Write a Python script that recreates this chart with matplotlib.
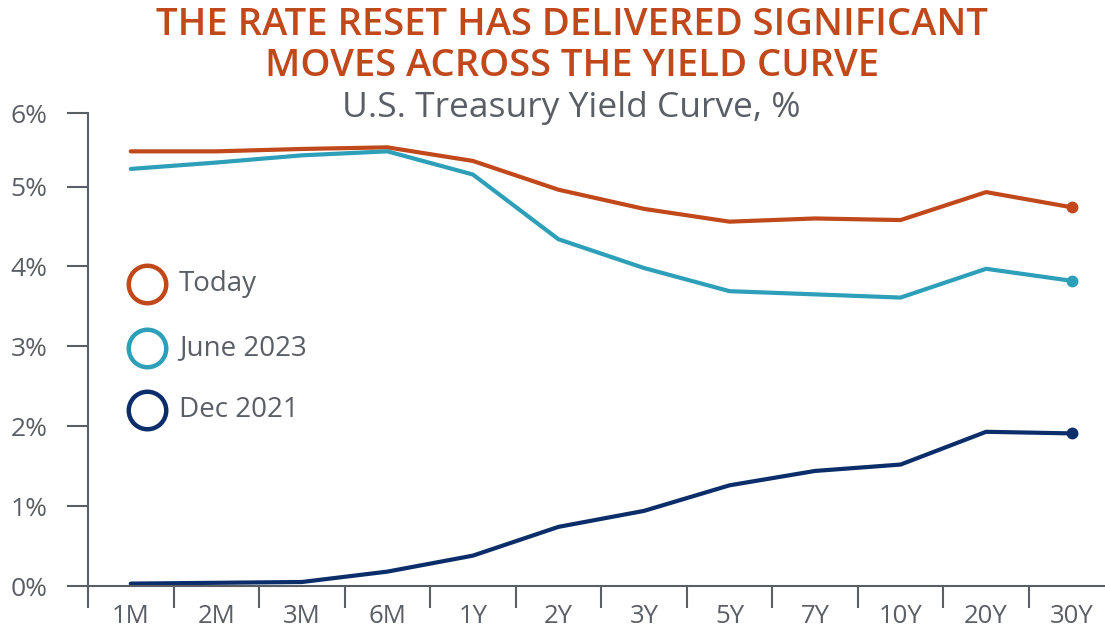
import matplotlib.pyplot as plt

# Дані кривої дохідності
tenors = ['1M', '2M', '3M', '6M', '1Y', '2Y', '3Y', '5Y', '7Y', '10Y', '20Y', '30Y']
today = [5.44, 5.44, 5.47, 5.49, 5.32, 4.96, 4.72, 4.56, 4.60, 4.58, 4.93, 4.74]
june_2023 = [5.22, 5.30, 5.39, 5.44, 5.15, 4.34, 3.98, 3.69, 3.65, 3.61, 3.97, 3.82]
dec_2021 = [0.03, 0.04, 0.05, 0.18, 0.38, 0.74, 0.94, 1.26, 1.44, 1.52, 1.93, 1.91]
series_names = ['Today', 'June 2023', 'Dec 2021']
yticks = [0, 1, 2, 3, 4, 5, 5.92]

colors = ['#c0481b', '#2e9fb8', '#0b2e6b']
grey = '#5a5f66'

plt.rcParams['font.family'] = ['Open Sans', 'DejaVu Sans']

fig = plt.figure(figsize=(11.05, 6.32), dpi=100)
ax = fig.add_axes([88 / 1105, 1 - 586 / 632, (1105 - 88) / 1105, (586 - 113) / 632])

x = list(range(len(tenors)))
for vals, c in zip([today, june_2023, dec_2021], colors):
    ax.plot(x, vals, color=c, lw=3, solid_capstyle='round', solid_joinstyle='round')
    ax.plot(x[-1], vals[-1], 'o', color=c, ms=7.5)

ax.set_xlim(-0.5, 11.39)
ax.set_ylim(0, 5.92)
ax.set_yticks(yticks)
ax.set_yticklabels([f'{v:.0f}%' for v in yticks])

# Мітки по центру категорій, поділки на межах
ax.set_xticks([i - 0.5 for i in range(len(tenors))])
ax.set_xticklabels([])
ax.set_xticks(x, minor=True)
ax.set_xticklabels(tenors, minor=True)
ax.tick_params(axis='x', which='major', length=16, width=1.5, color=grey, direction='out')
ax.tick_params(axis='x', which='minor', length=0, pad=13, labelsize=18.5, labelcolor=grey)
ax.tick_params(axis='y', length=15, width=1.5, color=grey, labelsize=19, labelcolor=grey, pad=14)

for s in ['top', 'right']:
    ax.spines[s].set_visible(False)
for s in ['left', 'bottom']:
    ax.spines[s].set_color(grey)
    ax.spines[s].set_linewidth(1.5)

# Легенда вручну
leg_y = [284, 348, 410]
for name, c, yy in zip(series_names, colors, leg_y):
    fy = 1 - yy / 632
    fig.lines.append(plt.Line2D([147 / 1105], [fy], marker='o', ms=27, mfc='white',
                                mec=c, mew=3.2, transform=fig.transFigure))
    fig.text(179 / 1105, fy, name, fontsize=20, color=grey, va='center', ha='left')

fig.text(0.518, 1 - 25 / 632, 'THE RATE RESET HAS DELIVERED SIGNIFICANT',
         fontsize=27.5, fontweight='semibold', color=colors[0], ha='center', va='center')
fig.text(0.518, 1 - 66 / 632, 'MOVES ACROSS THE YIELD CURVE',
         fontsize=27.5, fontweight='semibold', color=colors[0], ha='center', va='center')
fig.text(0.517, 1 - 108 / 632, 'U.S. Treasury Yield Curve, %', fontsize=25.5, color=grey,
         ha='center', va='center')

fig.savefig('out.png', dpi=100)
